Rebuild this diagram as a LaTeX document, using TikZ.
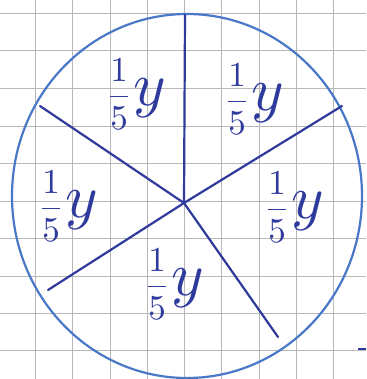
\documentclass[tikz,border=0pt]{standalone}
\usepackage{graphicx}
\usepackage{amsmath}
\usetikzlibrary{shapes.geometric}
\definecolor{ink}{HTML}{2E3A9C}
\definecolor{rim}{HTML}{4A78C8}
\definecolor{gridc}{HTML}{B8B8B8}
\newcommand{\fifthy}{\scalebox{3.5}{$\dfrac{1}{5}$}\hspace{1pt}\scalebox{6.2}{$y$}}
\begin{document}
\begin{tikzpicture}[x=1pt,y=-1pt,
  spoke/.style={ink,line width=2.2pt,line cap=round},
  gridline/.style={gridc,line width=0.8pt},
  lbl/.style={ink,inner sep=0pt}]
\useasboundingbox (0,0) rectangle (366,379);
\fill[white] (0,0) rectangle (366,379);
% grid
\foreach \gx in {35,72,110,147,184,221,259,296,333}
  \draw[gridline] (\gx,0) -- (\gx,379);
\foreach \gy in {13,50,88,126,163,201,238,276,313,350}
  \draw[gridline] (0,\gy) -- (366,\gy);
% circle
\node[draw=rim,line width=2.2pt,ellipse,minimum width=350pt,minimum height=364pt,inner sep=0pt] (rimc) at (187,196) {};
% spokes
\coordinate (o) at (184,203);
\coordinate (top) at (185,15);
\coordinate (ur) at (342,106);
\coordinate (lr) at (278,337);
\coordinate (ll) at (48,290);
\coordinate (ul) at (40,106);
\draw[spoke] (o) -- (top);
\draw[spoke] (o) -- (ur);
\draw[spoke] (o) -- (lr);
\draw[spoke] (o) -- (ll);
\draw[spoke] (o) -- (ul);
% labels
\node[lbl] (l1) at (136,94) {\fifthy};
\node[lbl] (l2) at (254,99) {\fifthy};
\node[lbl] (l3) at (294,207) {\fifthy};
\node[lbl] (l4) at (174,284) {\fifthy};
\node[lbl] (l5) at (68,206) {\fifthy};
% small dash
\coordinate (d1) at (358,349);
\coordinate (d2) at (366,349);
\draw[ink,line width=1.5pt] (d1) -- (d2);
\end{tikzpicture}
\end{document}
